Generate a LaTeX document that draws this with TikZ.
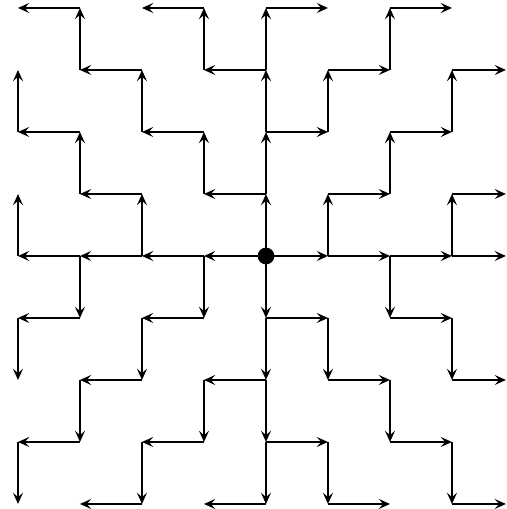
\documentclass[tikz,border=0pt]{standalone}
\usepackage{tikz}
\usetikzlibrary{arrows.meta}

\begin{document}
\begin{tikzpicture}[x=1cm, y=1cm,
    edge/.style={-{Stealth[length=1.8mm, width=1.6mm, inset=0.7mm]}, line width=0.7pt}]
    \useasboundingbox (-0.290,-0.081) rectangle (7.887,8.129);
    % grid points, p<column><row>, root at p44
    \foreach \i in {0,...,7}
        \foreach \j in {0,...,8}
            \coordinate (p\i\j) at (\i,\j);
    % ends of the edges leaving at the right border
    \foreach \j in {0,2,4,5,7}
        \coordinate (p8\j) at (7.87,\j);
    % spine
    \foreach \a/\b in {44/34, 34/24, 24/14, 14/04, 44/54, 54/64, 64/74, 74/84,
                       44/45, 45/46, 46/47, 47/48, 44/43, 43/42, 42/41, 41/40}
        \draw[edge] (p\a) -- (p\b);
    % upper left
    \foreach \a/\b in {17/18, 18/08, 27/17, 26/27, 36/26, 35/36, 45/35, 38/28,
                       37/38, 47/37, 06/07, 16/06, 15/16, 25/15, 24/25, 04/05}
        \draw[edge] (p\a) -- (p\b);
    % upper right
    \foreach \a/\b in {48/58, 57/67, 67/68, 68/78, 56/57, 46/56, 77/87, 76/77,
                       66/76, 65/66, 55/65, 54/55, 75/85, 74/75}
        \draw[edge] (p\a) -- (p\b);
    % lower left
    \foreach \a/\b in {14/13, 13/03, 03/02, 34/33, 33/23, 23/22, 22/12, 12/11,
                       11/01, 01/00, 42/32, 32/31, 31/21, 21/20, 20/10, 40/30}
        \draw[edge] (p\a) -- (p\b);
    % lower right
    \foreach \a/\b in {43/53, 53/52, 52/62, 62/61, 61/71, 71/70, 70/80, 64/63,
                       63/73, 73/72, 72/82, 41/51, 51/50, 50/60}
        \draw[edge] (p\a) -- (p\b);
    \fill (p44) circle (0.135);
\end{tikzpicture}
\end{document}
